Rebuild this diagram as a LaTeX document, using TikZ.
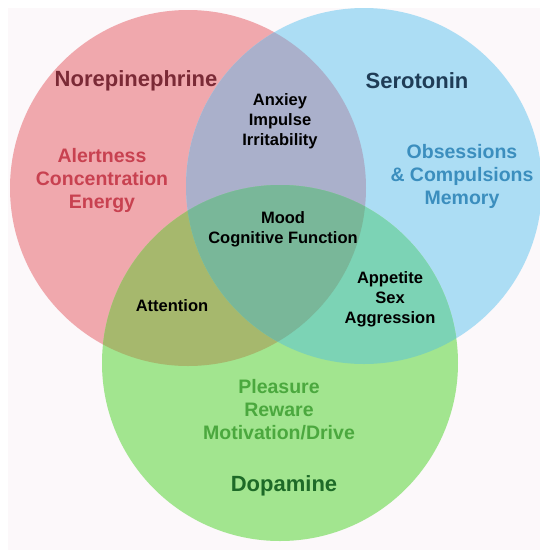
\documentclass[tikz,border=0pt]{standalone}
\usepackage{fontspec}
\setmainfont{Liberation Sans}
\usetikzlibrary{positioning}

\definecolor{paper}{HTML}{FCF8FA}
\definecolor{nefill}{HTML}{F0A8AD}
\definecolor{sefill}{HTML}{ACDDF4}
\definecolor{dafill}{HTML}{A2E58F}
\definecolor{nesefill}{HTML}{AAB0CB}
\definecolor{nedafill}{HTML}{A6B86D}
\definecolor{sedafill}{HTML}{7CD3B5}
\definecolor{allfill}{HTML}{79B799}
\definecolor{netitle}{HTML}{7B2A36}
\definecolor{setitle}{HTML}{1F3C56}
\definecolor{datitle}{HTML}{1D6A27}
\definecolor{netext}{HTML}{C84150}
\definecolor{setext}{HTML}{3B8EBE}
\definecolor{datext}{HTML}{4BA83E}

\begin{document}
\begin{tikzpicture}[x=1pt,y=-1pt,
                    every node/.style={align=center,inner sep=0pt},
                    title/.style={font=\fontsize{22}{26}\selectfont\bfseries},
                    effect/.style={font=\fontsize{19.5}{23}\selectfont\bfseries},
                    shared/.style={font=\fontsize{16.5}{20}\selectfont\bfseries,text=black}
]
\useasboundingbox (0,0) rectangle (540,550);
\fill[white] (0,0) rectangle (540,550);
\fill[paper] (8,8) rectangle (540,550);
%
\coordinate (ne) at (188,188);
\coordinate (se) at (364,186);
\coordinate (da) at (280,363);
\def\rad{178}
%
\fill[nefill] (ne) circle (\rad);
\fill[sefill] (se) circle (\rad);
\fill[dafill] (da) circle (\rad);
\begin{scope}
  \clip (ne) circle (\rad);
  \fill[nesefill] (se) circle (\rad);
  \fill[nedafill] (da) circle (\rad);
\end{scope}
\begin{scope}
  \clip (se) circle (\rad);
  \fill[sedafill] (da) circle (\rad);
\end{scope}
\begin{scope}
  \clip (ne) circle (\rad);
  \clip (se) circle (\rad);
  \fill[allfill] (da) circle (\rad);
\end{scope}
%
\node [title,text=netitle] at (136,81) (nor) {Norepinephrine};
\node [title,text=setitle] at (417,81) (ser) {Serotonin};
\node [title,text=datitle] at (284,486) (dop) {Dopamine};
%
\node [effect,text=netext] at (102,180) (alert) {Alertness\\Concentration\\Energy};
\node [effect,text=setext] at (462,176) (obs) {Obsessions\\\& Compulsions\\Memory};
\node [effect,text=datext] at (279,410) (pleas) {Pleasure\\Reware\\Motivation/Drive};
%
\node [shared] at (280,121) (anx) {Anxiey\\Impulse\\Irritability};
\node [shared] at (283,229) (mood) {Mood\\Cognitive Function};
\node [shared] at (172,306) (att) {Attention};
\node [shared] at (390,299) (app) {Appetite\\Sex\\Aggression};
\end{tikzpicture}
\end{document}
